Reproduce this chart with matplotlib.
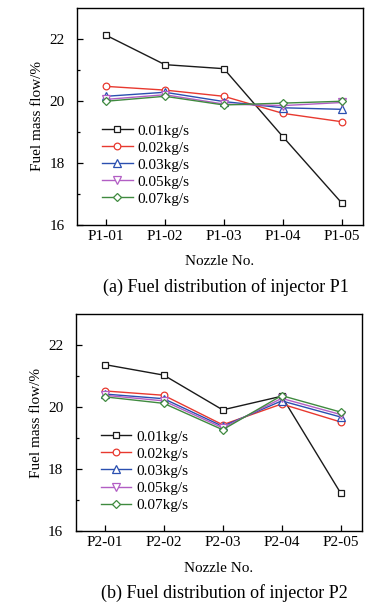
import matplotlib
matplotlib.use("Agg")
import matplotlib.pyplot as plt

plt.rcParams['font.family'] = ['Liberation Serif', 'DejaVu Sans']
plt.rcParams['mathtext.fontset'] = 'stix'

labels = ['0.01kg/s', '0.02kg/s', '0.03kg/s', '0.05kg/s', '0.07kg/s']
colors = ['#1a1a1a', '#e8392f', '#2a4fb0', '#b25ec4', '#3f8a3f']
markers = ['s', 'o', '^', 'v', 'D']
msizes = [4.8, 4.8, 5.2, 5.2, 4.4]

p1_names = ['P1-01', 'P1-02', 'P1-03', 'P1-04', 'P1-05']
p1_vals = [
    [22.12, 21.17, 21.04, 18.85, 16.71],
    [20.47, 20.35, 20.15, 19.60, 19.33],
    [20.15, 20.28, 19.98, 19.78, 19.73],
    [20.05, 20.20, 19.90, 19.85, 19.95],
    [19.99, 20.15, 19.87, 19.93, 19.99],
]

p2_names = ['P2-01', 'P2-02', 'P2-03', 'P2-04', 'P2-05']
p2_vals = [
    [21.37, 21.03, 19.91, 20.35, 17.23],
    [20.52, 20.38, 19.43, 20.10, 19.52],
    [20.42, 20.27, 19.38, 20.20, 19.68],
    [20.38, 20.20, 19.33, 20.28, 19.76],
    [20.33, 20.12, 19.27, 20.37, 19.84],
]

fig = plt.figure(figsize=(3.87, 6.05), dpi=100)
ax1 = fig.add_axes([0.199, 0.628, 0.739, 0.359])
ax2 = fig.add_axes([0.196, 0.122, 0.739, 0.359])


def draw(ax, names, vals, caption):
    x = list(range(1, len(names) + 1))
    for i in range(len(vals)):
        ax.plot(x, vals[i], color=colors[i], marker=markers[i], markersize=msizes[i],
                markerfacecolor='white', markeredgewidth=0.9, linewidth=1.0,
                label=labels[i])
    ax.set_xlim(0.51, 5.36)
    ax.set_ylim(16, 23)
    ax.set_xticks(x)
    ax.set_xticklabels(names)
    ax.set_yticks([16, 18, 20, 22])
    ax.set_yticks([17, 19, 21], minor=True)
    ax.tick_params(axis='both', which='both', direction='in', labelsize=11)
    ax.tick_params(axis='both', which='major', length=4, width=0.9)
    ax.tick_params(axis='y', which='both', pad=9)
    ax.tick_params(axis='y', which='minor', length=2.5, width=0.9)
    ax.tick_params(axis='x', which='minor', bottom=False)
    for s in ax.spines.values():
        s.set_linewidth(1.0)
    ax.set_ylabel('Fuel mass flow/%', fontsize=11, labelpad=4)
    ax.set_xlabel('Nozzle No.', fontsize=11, labelpad=9)
    ax.legend(loc='upper left', bbox_to_anchor=(0.05, 0.515), frameon=False,
              fontsize=11, labelspacing=0.22, handlelength=2.0,
              handletextpad=0.3, borderpad=0.2)
    ax.text(0.52, -0.285, caption, transform=ax.transAxes, ha='center',
            va='center', fontsize=13)


draw(ax1, p1_names, p1_vals, '(a) Fuel distribution of injector P1')
draw(ax2, p2_names, p2_vals, '(b) Fuel distribution of injector P2')

fig.savefig('out.png', dpi=100)
